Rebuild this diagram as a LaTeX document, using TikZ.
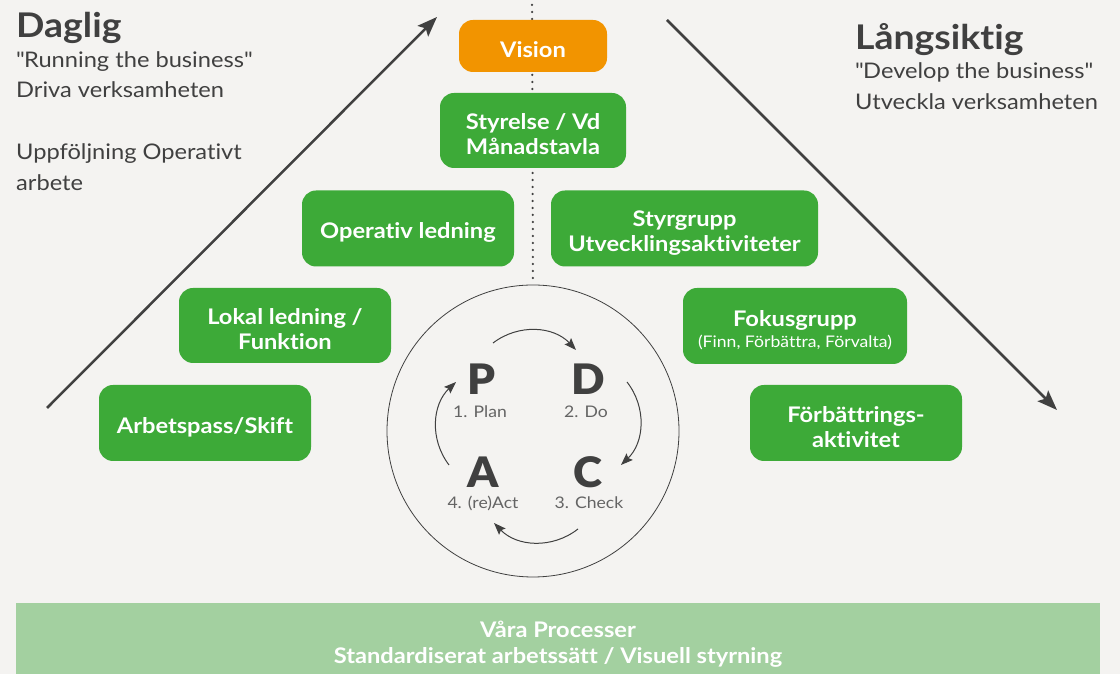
\documentclass[tikz,border=0pt]{standalone}
\usepackage{fontspec}
\setmainfont{Lato}[FakeStretch=1.1, Ligatures=NoCommon]
\newfontfamily\heavyfont{Lato Black}[FakeStretch=1.05]
\usepackage{tikz}
\usetikzlibrary{arrows.meta,positioning}
\usepackage{xcolor}
\definecolor{bggray}{RGB}{244,243,241}
\definecolor{boxgreen}{RGB}{61,170,56}
\definecolor{visionorange}{RGB}{242,148,0}
\definecolor{basegreen}{RGB}{163,208,160}
\definecolor{inkgray}{RGB}{64,64,64}
\definecolor{stepgray}{RGB}{100,100,100}
\newcommand{\lift}{\rule{0pt}{24pt}}
\tikzset{
    box/.style={rectangle, rounded corners=14pt, fill=boxgreen, text=white, align=center, inner sep=0pt, minimum width=212pt, minimum height=76pt, font=\fontsize{21.5}{25}\selectfont\bfseries},
    boxO/.style={box, fill=visionorange},
    trend/.style={line width=2.5pt, draw=inkgray, -{Stealth[length=20pt, width=15pt, inset=4pt]}},
    cycarrow/.style={line width=1pt, draw=inkgray, -{Stealth[length=12pt, width=9pt, inset=2pt]}},
    heading/.style={anchor=base west, inner sep=0pt, text=inkgray, font=\fontsize{34}{40}\selectfont\bfseries},
    subline/.style={anchor=base west, inner sep=0pt, text=inkgray, font=\fontsize{21.5}{25}\selectfont},
    pdca/.style={anchor=base, inner sep=0pt, text=inkgray, font=\heavyfont\fontsize{42}{44}\selectfont},
    pdcalabel/.style={anchor=base, inner sep=0pt, text=stepgray, font=\fontsize{16}{18}\selectfont},
}

\begin{document}
\begin{tikzpicture}[x=1pt, y=1pt]
    \useasboundingbox[fill=bggray] (0,0) rectangle (1120,674);

    % Cycle ring and the axis through the middle
    \node[circle, draw=inkgray, line width=0.8pt, minimum size=292pt, inner sep=0pt] (ring) at (533,243) {};
    \coordinate (axistop) at (532,669);
    \draw[inkgray, line width=2.5pt, line cap=round, dash pattern=on 0pt off 7pt] (axistop) -- (ring.north);

    % Daily / long-term arrows
    \coordinate (dstart) at (47,266);
    \coordinate (dend) at (437,657);
    \coordinate (lstart) at (667,654);
    \coordinate (lend) at (1057,264);
    \draw[trend] (dstart) -- (dend);
    \draw[trend] (lstart) -- (lend);

    % Headings
    \node[heading] (daglig) at (16,636) {Daglig};
    \foreach \y/\t [count=\i] in {606/{\textquotedbl Running the business\textquotedbl}, 576/{Driva verksamheten}, 514/{Uppföljning Operativt}, 483/{arbete}} {
        \node[subline] (dl\i) at (16,\y) {\t};
    }
    \node[heading] (langsiktig) at (855,624) {Långsiktig};
    \foreach \y/\t [count=\i] in {595/{\textquotedbl Develop the business\textquotedbl}, 564/{Utveckla verksamheten}} {
        \node[subline] (ll\i) at (855,\y) {\t};
    }

    % Levels
    \node[boxO, minimum width=148pt, minimum height=52pt] (vision) at (533,628) {\lift Vision};
    \node[box, minimum width=186pt, minimum height=75pt] (styrelse) at (533,543.5) {\lift Styrelse / Vd\\Månadstavla};
    \node[box] (operativ) at (408,445.5) {\lift Operativ ledning};
    \node[box, minimum width=267pt] (styrgrupp) at (684.5,445.5) {\lift Styrgrupp\\Utvecklingsaktiviteter};
    \node[box, minimum height=75pt] (lokal) at (285,348.5) {\lift Lokal ledning /\\Funktion};
    \node[box, minimum width=224pt] (fokus) at (795,348) {\lift Fokusgrupp\\[-4pt]{\fontsize{16}{18}\selectfont\mdseries(Finn, Förbättra, Förvalta)}};
    \node[box] (arbetspass) at (205,251) {\lift Arbetspass/Skift};
    \node[box] (forbattring) at (856,251) {\lift Förbättrings-\\aktivitet};

    % PDCA
    \node[pdca] (P) at (482,279) {P};
    \node[pdca] (D) at (588,279) {D};
    \node[pdca] (A) at (483,186) {A};
    \node[pdca] (C) at (588,186) {C};
    \node[pdcalabel] (Pl) at (480,256) {1. Plan};
    \node[pdcalabel] (Dl) at (586,256) {2. Do};
    \node[pdcalabel] (Al) at (483,165) {4. (re)Act};
    \node[pdcalabel] (Cl) at (589,165) {3. Check};
    \coordinate (pd1) at (493,331);
    \coordinate (pd2) at (576,324);
    \coordinate (dc1) at (627,292);
    \coordinate (dc2) at (621,209);
    \coordinate (ca1) at (578,145);
    \coordinate (ca2) at (494,151);
    \coordinate (ap1) at (449,209);
    \coordinate (ap2) at (456,292);
    \foreach \a in {pd, dc, ca, ap} {
        \draw[cycarrow] (\a1) to[bend left=42] (\a2);
    }

    % Base
    \node[fill=basegreen, minimum width=1084pt, minimum height=83pt, inner sep=0pt, anchor=south west] (base) at (16,-12) {};
    \node[text=white, align=center, font=\fontsize{21.5}{26}\selectfont\bfseries] (basetext) at (558,30) {Våra Processer\\Standardiserat arbetssätt / Visuell styrning};
\end{tikzpicture}
\end{document}
